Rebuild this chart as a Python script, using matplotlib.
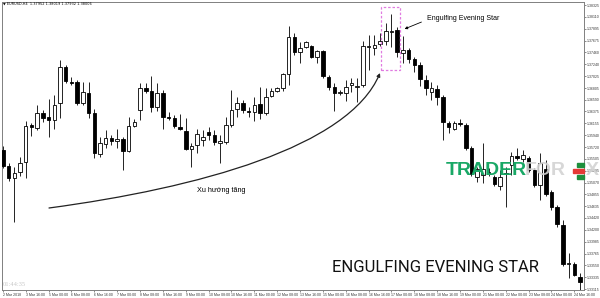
import matplotlib
matplotlib.use('Agg')
import matplotlib.pyplot as plt
from matplotlib.patches import Rectangle, FancyArrowPatch
from matplotlib.path import Path

plt.rcParams['font.family'] = ['Liberation Sans', 'DejaVu Sans']

# EURUSD H4 candles
opens = [1.3567, 1.3537, 1.3515, 1.3526, 1.3545, 1.3613, 1.3607, 1.3635, 1.3627, 1.3622,
         1.3653, 1.3719, 1.3692, 1.3692, 1.3653, 1.3671, 1.3635, 1.3559, 1.3578, 1.3589,
         1.3583, 1.3587, 1.3565, 1.3611, 1.3640, 1.3681, 1.3675, 1.3646, 1.3671, 1.3627,
         1.3625, 1.3609, 1.3602, 1.3569, 1.3576, 1.3585, 1.3600, 1.3594, 1.3580, 1.3581,
         1.3613, 1.3642, 1.3653, 1.3638, 1.3637, 1.3651, 1.3635, 1.3666, 1.3675, 1.3681,
         1.3706, 1.3774, 1.3747, 1.3756, 1.3758, 1.3737, 1.3748, 1.3701, 1.3682, 1.3671,
         1.3671, 1.3686, 1.3682, 1.3686, 1.3756, 1.3754, 1.3761, 1.3767, 1.3784, 1.3787,
         1.3745, 1.3750, 1.3734, 1.3723, 1.3695, 1.3673, 1.3679, 1.3664, 1.3616, 1.3605,
         1.3616, 1.3613, 1.3570, 1.3517, 1.3521, 1.3525, 1.3517, 1.3501, 1.3525, 1.3539,
         1.3556, 1.3550, 1.3552, 1.3530, 1.3503, 1.3532, 1.3490, 1.3462, 1.3429, 1.3358,
         1.3358, 1.3334]
highs = [1.3574, 1.3543, 1.3536, 1.3554, 1.3620, 1.3616, 1.3649, 1.3640, 1.3660, 1.3668,
         1.3732, 1.3723, 1.3701, 1.3695, 1.3692, 1.3692, 1.3642, 1.3591, 1.3603, 1.3594,
         1.3605, 1.3591, 1.3627, 1.3624, 1.3690, 1.3690, 1.3703, 1.3690, 1.3677, 1.3637,
         1.3631, 1.3633, 1.3625, 1.3580, 1.3605, 1.3603, 1.3609, 1.3603, 1.3594, 1.3627,
         1.3677, 1.3664, 1.3659, 1.3646, 1.3664, 1.3682, 1.3681, 1.3681, 1.3682, 1.3708,
         1.3794, 1.3781, 1.3765, 1.3767, 1.3759, 1.3750, 1.3750, 1.3704, 1.3690, 1.3677,
         1.3695, 1.3699, 1.3699, 1.3767, 1.3778, 1.3778, 1.3781, 1.3800, 1.3816, 1.3793,
         1.3776, 1.3754, 1.3737, 1.3728, 1.3704, 1.3692, 1.3686, 1.3668, 1.3620, 1.3620,
         1.3624, 1.3616, 1.3574, 1.3536, 1.3580, 1.3534, 1.3521, 1.3530, 1.3536, 1.3563,
         1.3570, 1.3567, 1.3556, 1.3534, 1.3561, 1.3548, 1.3493, 1.3466, 1.3438, 1.3378,
         1.3361, 1.3341]
lows = [1.3534, 1.3510, 1.3435, 1.3519, 1.3515, 1.3592, 1.3603, 1.3618, 1.3591, 1.3605,
        1.3625, 1.3690, 1.3686, 1.3649, 1.3649, 1.3625, 1.3552, 1.3554, 1.3570, 1.3576,
        1.3570, 1.3530, 1.3563, 1.3609, 1.3622, 1.3671, 1.3637, 1.3638, 1.3605, 1.3622,
        1.3607, 1.3603, 1.3567, 1.3536, 1.3561, 1.3574, 1.3585, 1.3576, 1.3543, 1.3578,
        1.3609, 1.3627, 1.3635, 1.3627, 1.3620, 1.3624, 1.3631, 1.3664, 1.3673, 1.3675,
        1.3686, 1.3741, 1.3726, 1.3754, 1.3736, 1.3726, 1.3699, 1.3677, 1.3638, 1.3668,
        1.3657, 1.3673, 1.3655, 1.3682, 1.3714, 1.3741, 1.3758, 1.3759, 1.3756, 1.3737,
        1.3726, 1.3726, 1.3710, 1.3684, 1.3668, 1.3658, 1.3649, 1.3585, 1.3598, 1.3603,
        1.3611, 1.3567, 1.3519, 1.3508, 1.3506, 1.3519, 1.3501, 1.3493, 1.3462, 1.3521,
        1.3548, 1.3545, 1.3526, 1.3499, 1.3475, 1.3482, 1.3457, 1.3426, 1.3354, 1.3332,
        1.3336, 1.3310]
closes = [1.3537, 1.3515, 1.3525, 1.3543, 1.3611, 1.3609, 1.3635, 1.3625, 1.3622, 1.3649,
          1.3719, 1.3693, 1.3690, 1.3653, 1.3673, 1.3635, 1.3561, 1.3580, 1.3589, 1.3583,
          1.3587, 1.3565, 1.3611, 1.3618, 1.3681, 1.3675, 1.3646, 1.3671, 1.3627, 1.3625,
          1.3611, 1.3605, 1.3569, 1.3574, 1.3596, 1.3591, 1.3594, 1.3581, 1.3583, 1.3613,
          1.3640, 1.3653, 1.3640, 1.3637, 1.3649, 1.3635, 1.3664, 1.3675, 1.3681, 1.3706,
          1.3774, 1.3747, 1.3754, 1.3765, 1.3737, 1.3748, 1.3703, 1.3682, 1.3671, 1.3673,
          1.3682, 1.3690, 1.3684, 1.3758, 1.3758, 1.3759, 1.3767, 1.3785, 1.3786, 1.3747,
          1.3750, 1.3734, 1.3723, 1.3697, 1.3681, 1.3681, 1.3664, 1.3618, 1.3609, 1.3616,
          1.3614, 1.3570, 1.3523, 1.3532, 1.3532, 1.3526, 1.3504, 1.3517, 1.3523, 1.3556,
          1.3552, 1.3558, 1.3530, 1.3503, 1.3543, 1.3486, 1.3462, 1.3431, 1.3358, 1.3359,
          1.3337, 1.3324]

price_labels = ['1.38325', '1.38110', '1.37895', '1.37675', '1.37460', '1.37240',
                '1.37025', '1.36805', '1.36590', '1.36375', '1.36155', '1.35940',
                '1.35720', '1.35505', '1.35285', '1.35070', '1.34855', '1.34635',
                '1.34420', '1.34200', '1.33985', '1.33765', '1.33550', '1.33335',
                '1.33115']
time_labels = ['2 Mar 2018', '3 Mar 16:00', '5 Mar 00:00', '6 Mar 08:00', '6 Mar 16:00',
               '7 Mar 00:00', '8 Mar 08:00', '8 Mar 16:00', '9 Mar 00:00', '10 Mar 08:00',
               '10 Mar 16:00', '11 Mar 00:00', '12 Mar 08:00', '13 Mar 16:00', '15 Mar 00:00',
               '16 Mar 08:00', '16 Mar 16:00', '17 Mar 00:00', '18 Mar 08:00', '18 Mar 16:00',
               '19 Mar 00:00', '21 Mar 00:00', '22 Mar 00:00', '23 Mar 08:00', '24 Mar 00:00',
               '24 Mar 16:00']

W, H = 600, 298

def fx(x):
    return x / W

def fy(y):
    return 1 - y / H

fig = plt.figure(figsize=(6, 2.98), dpi=100)
ax = fig.add_axes([fx(2), fy(290), 581.5 / W, 288 / H])

for i in range(len(opens)):
    o, h, l, c = opens[i], highs[i], lows[i], closes[i]
    ax.vlines(i, l, h, color='black', lw=0.6, zorder=2)
    fc = 'white' if c >= o else 'black'
    ax.bar(i, max(abs(c - o), 0.00002), bottom=min(o, c), width=0.62,
           color=fc, edgecolor='black', lw=0.6, zorder=3)

ax.set_xlim(-0.15, 101.6)
ax.set_ylim(1.33099, 1.38383)

ax.yaxis.tick_right()
ax.set_yticks([float(s) for s in price_labels])
ax.set_yticklabels(price_labels)
ax.set_xticks(range(0, 4 * len(time_labels), 4))
ax.set_xticklabels(time_labels)
for lbl in ax.get_xticklabels():
    lbl.set_ha('left')
ax.tick_params(axis='both', labelsize=2.5, length=1.5, width=0.4, pad=1, colors='#333333')
for s in ax.spines.values():
    s.set_color('#808080')
    s.set_linewidth(0.7)

# texts and annotations
fig.text(fx(3), fy(4), '\u25bc EURUSD,H4  1.37952 1.38019 1.37932 1.38006',
         fontsize=2.5, va='center', family=['DejaVu Sans'])
fig.text(fx(3), fy(285), '01:44:35', fontsize=4.7, color='#c8c8c8', va='center',
         family=['Liberation Serif'])
fig.text(fx(197), fy(190), 'Xu hướng tăng', fontsize=5.2, va='center')
fig.text(fx(427), fy(19), 'Engulfing Evening Star', fontsize=5, va='center')
fig.text(fx(332), fy(268), 'ENGULFING EVENING STAR', fontsize=12, va='center',
         family=['Roboto'], color='#111111')

fig.add_artist(Rectangle((fx(381), fy(70)), (400 - 381) / W, (70 - 7) / H,
                         transform=fig.transFigure, fill=False, ec='#e07be0',
                         ls=(0, (2, 1.5)), lw=0.9))
fig.add_artist(FancyArrowPatch((fx(424), fy(21)), (fx(402), fy(30)),
                               transform=fig.transFigure, arrowstyle='-|>',
                               mutation_scale=4, lw=0.6, color='black'))
verts = [(fx(49), fy(208)), (fx(198), fy(188)), (fx(349), fy(147)), (fx(380), fy(73))]
codes = [Path.MOVETO, Path.CURVE4, Path.CURVE4, Path.CURVE4]
fig.add_artist(FancyArrowPatch(path=Path(verts, codes), transform=fig.transFigure,
                               arrowstyle='-|>', mutation_scale=5, lw=0.9, color='#222222'))

# watermark
fig.text(fx(446), fy(170.5), 'TRADER', fontsize=14, fontweight='bold',
         color='#19a866', va='center', zorder=10)
fig.text(fx(525), fy(170.5), 'FOR', fontsize=14, fontweight='bold',
         color='#d3d3d3', alpha=0.9, va='center', zorder=10)
fig.text(fx(586), fy(170.5), 'X', fontsize=14, fontweight='bold',
         color='#d3d3d3', alpha=0.9, va='center', zorder=10)
for y0, col, x0, w in [(163, '#1e8f3c', 577, 7), (169, '#e53935', 573, 11), (175, '#1e8f3c', 577, 7)]:
    fig.add_artist(Rectangle((fx(x0), fy(y0 + 3.5)), w / W, 3.5 / H,
                             transform=fig.transFigure, color=col, zorder=11))

fig.savefig('out.png', dpi=100)
